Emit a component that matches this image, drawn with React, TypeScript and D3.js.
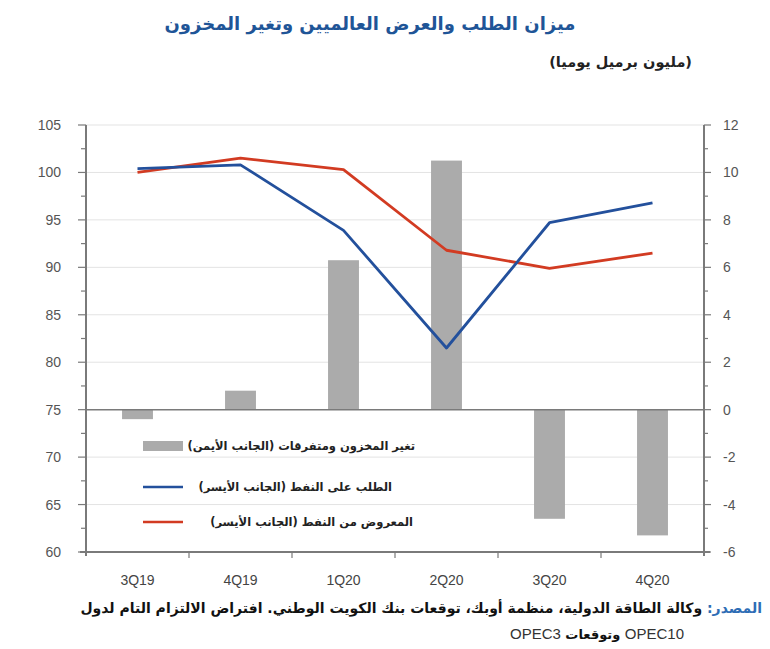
import React from "react";
import * as d3 from "d3";

const categories = ["3Q19", "4Q19", "1Q20", "2Q20", "3Q20", "4Q20"];
const stockChange = [-0.4, 0.8, 6.3, 10.5, -4.6, -5.3];
const demand = [100.4, 100.8, 93.9, 81.5, 94.7, 96.8];
const supply = [100.0, 101.5, 100.3, 91.8, 89.9, 91.5];
const leftTicks = [60, 65, 70, 75, 80, 85, 90, 95, 100, 105];
const rightTicks = [-6, -4, -2, 0, 2, 4, 6, 8, 10, 12];

const title = "ميزان الطلب والعرض العالميين وتغير المخزون";
const subtitle = "(مليون برميل يوميا)";
const legendLabels = [
  "تغير المخزون ومتفرقات (الجانب الأيمن)",
  "الطلب على النفط (الجانب الأيسر)",
  "المعروض من النفط (الجانب الأيسر)",
];
const sourceLabel = "المصدر:";
const sourceText = " وكالة الطاقة الدولية، منظمة أوبك، توقعات بنك الكويت الوطني. افتراض الالتزام التام لدول";
const sourceCodeA = "OPEC10";
const sourceMid = " وتوقعات ";
const sourceCodeB = "OPEC3";

const W = 770;
const H = 649;
const L = 86, R = 704, T = 125, B = 552;

const BLUE = "#23509c";
const RED = "#d23b22";
const GRAY = "#ababab";
const AXIS = "#7a7a7a";
const AR = "'DejaVu Sans', sans-serif";
const NUM = "'Liberation Sans', Arial, sans-serif";

export default function App() {
  const x = d3.scaleBand<string>().domain(categories).range([L, R]);
  const yL = d3.scaleLinear().domain([60, 105]).range([B, T]);
  const yR = d3.scaleLinear().domain([-6, 12]).range([B, T]);
  const barW = x.bandwidth() * 0.3;
  const cx = (c: string) => (x(c) as number) + x.bandwidth() / 2;

  const lineGen = d3
    .line<number>()
    .x((_, i) => cx(categories[i]))
    .y((d) => yL(d));

  const minorL = d3.range(60, 105.01, 2.5);
  const minorR = d3.range(-6, 12.01, 1);

  return (
    <svg width={W} height={H} style={{ display: "block", position: "absolute", left: 0, top: 0, background: "#fff" }}>
      {/* title */}
      <text x={370} y={30} textAnchor="middle" fontFamily={AR} fontWeight="bold" fontSize={18} fill="#1f5597">
        {title}
      </text>
      <text x={692} y={67} direction="rtl" textAnchor="start" fontFamily={AR} fontWeight="bold" fontSize={14.5} fill="#222">
        {subtitle}
      </text>

      {/* gridlines */}
      {leftTicks.filter((t) => t !== 60 && t !== 75).map((t) => (
        <line key={"g" + t} x1={L} x2={R} y1={yL(t)} y2={yL(t)} stroke="#e3e3e3" strokeWidth={1} />
      ))}

      {/* bars */}
      {categories.map((c, i) => {
        const v = stockChange[i];
        const y0 = yR(0);
        const y1 = yR(v);
        return (
          <rect key={"b" + c} x={cx(c) - barW / 2} width={barW} y={Math.min(y0, y1)} height={Math.abs(y1 - y0)} fill={GRAY} />
        );
      })}

      {/* zero line */}
      <line x1={L} x2={R} y1={yR(0)} y2={yR(0)} stroke={AXIS} strokeWidth={1.5} />

      {/* lines */}
      <path d={lineGen(supply) as string} fill="none" stroke={RED} strokeWidth={2.8} strokeLinejoin="round" />
      <path d={lineGen(demand) as string} fill="none" stroke={BLUE} strokeWidth={2.8} strokeLinejoin="round" />

      {/* left axis */}
      <line x1={L} x2={L} y1={T} y2={B + 4} stroke={AXIS} strokeWidth={2} />
      {minorL.map((t) => (
        <line key={"ml" + t} x1={L - (t % 5 === 0 ? 8 : 5)} x2={L} y1={yL(t)} y2={yL(t)} stroke={AXIS} strokeWidth={1.2} />
      ))}
      {leftTicks.map((t) => (
        <text key={"lt" + t} x={61} y={yL(t) + 5} textAnchor="end" fontFamily={NUM} fontSize={14} fill="#555">
          {t}
        </text>
      ))}

      {/* right axis */}
      <line x1={R} x2={R} y1={T} y2={B + 4} stroke={AXIS} strokeWidth={2} />
      {minorR.map((t) => (
        <line key={"mr" + t} x1={R} x2={R + (t % 2 === 0 ? 7 : 4)} y1={yR(t)} y2={yR(t)} stroke={AXIS} strokeWidth={1.2} />
      ))}
      {rightTicks.map((t) => (
        <text key={"rt" + t} x={723} y={yR(t) + 5} textAnchor="start" fontFamily={NUM} fontSize={14} fill="#555">
          {t}
        </text>
      ))}

      {/* bottom axis */}
      <line x1={L - 6} x2={R + 6} y1={B} y2={B} stroke={AXIS} strokeWidth={2} />
      {d3.range(1, categories.length).map((k) => (
        <line key={"xt" + k} x1={L + k * x.step()} x2={L + k * x.step()} y1={B} y2={B + 6} stroke={AXIS} strokeWidth={1.2} />
      ))}
      {categories.map((c) => (
        <text key={"xl" + c} x={cx(c)} y={585} textAnchor="middle" fontFamily={NUM} fontSize={14} fill="#444">
          {c}
        </text>
      ))}

      {/* legend */}
      <rect x={143} y={441} width={40} height={10} fill={GRAY} />
      <line x1={143} x2={183} y1={487} y2={487} stroke={BLUE} strokeWidth={2.5} />
      <line x1={143} x2={183} y1={522} y2={522} stroke={RED} strokeWidth={2.5} />
      {legendLabels.map((lab, i) => (
        <text key={"lg" + i} x={[415, 392, 413][i]} y={[450, 491, 526][i]} direction="rtl" textAnchor="start" fontFamily={AR} fontWeight="bold" fontSize={11.5} fill="#222">
          {lab}
        </text>
      ))}

      {/* source */}
      <text x={762} y={613} direction="rtl" textAnchor="start" fontFamily={AR} fontWeight="bold" fontSize={14} fill="#111">
        <tspan fill="#2e6db5">{sourceLabel}</tspan>
        {sourceText}
      </text>
      <text x={684} y={639} direction="rtl" textAnchor="start" fontFamily={AR} fontWeight="bold" fontSize={13} fill="#111">
        <tspan fontFamily={NUM} fontWeight="normal" fontSize={15} fill="#333">{sourceCodeA}</tspan>
        {sourceMid}
        <tspan fontFamily={NUM} fontWeight="normal" fontSize={15} fill="#333">{sourceCodeB}</tspan>
      </text>
    </svg>
  );
}
